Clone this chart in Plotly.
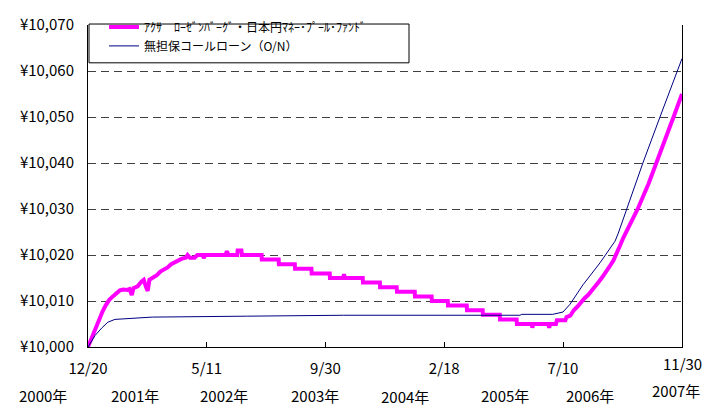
import plotly.graph_objects as go

# ---------------- data ----------------
fund_name = "ｱｸｻ　ﾛｰｾﾞﾝﾊﾞｰｸﾞ・日本円ﾏﾈｰ･ﾌﾟｰﾙ･ﾌｧﾝﾄﾞ"
call_name = "無担保コールローン（O/N）"

fund_dates = [
    "2000-12-20", "2001-01-05", "2001-01-20", "2001-02-05", "2001-02-20", "2001-03-05",
    "2001-03-20", "2001-04-05", "2001-04-20", "2001-05-05", "2001-05-20", "2001-06-05",
    "2001-06-15", "2001-06-25", "2001-07-02", "2001-07-20", "2001-08-05", "2001-08-15",
    "2001-08-25", "2001-09-01", "2001-09-08", "2001-09-25", "2001-10-10", "2001-10-25",
    "2001-11-10", "2001-11-25", "2001-12-10", "2001-12-25", "2002-01-10", "2002-01-25",
    "2002-02-10", "2002-02-18", "2002-02-28", "2002-03-20", "2002-04-01", "2002-04-24",
    "2002-04-28", "2002-05-03", "2002-07-30", "2002-08-05", "2002-08-12", "2002-09-18",
    "2002-09-20", "2002-10-06", "2002-10-08", "2002-12-31", "2003-01-01", "2003-03-14",
    "2003-03-15", "2003-05-22", "2003-05-23", "2003-08-01", "2003-08-02", "2003-10-18",
    "2003-10-19", "2003-12-14", "2003-12-18", "2003-12-22", "2004-03-07", "2004-03-08",
    "2004-05-19", "2004-05-20", "2004-07-30", "2004-07-31", "2004-10-15", "2004-10-16",
    "2004-12-26", "2004-12-27", "2005-03-05", "2005-03-06", "2005-05-25", "2005-05-26",
    "2005-08-01", "2005-08-02", "2005-10-13", "2005-10-14", "2005-12-24", "2005-12-25",
    "2006-02-26", "2006-03-01", "2006-03-05", "2006-05-08", "2006-05-12", "2006-05-16",
    "2006-06-10", "2006-06-14", "2006-07-20", "2006-07-25", "2006-08-10", "2006-08-25",
    "2006-09-10", "2006-09-25", "2006-10-10", "2006-10-25", "2006-11-10", "2006-11-25",
    "2006-12-10", "2006-12-25", "2007-01-10", "2007-01-25", "2007-02-10", "2007-02-25",
    "2007-03-10", "2007-03-25", "2007-04-10", "2007-04-25", "2007-05-10", "2007-05-25",
    "2007-06-10", "2007-06-25", "2007-07-10", "2007-07-25", "2007-08-10", "2007-08-25",
    "2007-09-10", "2007-09-25", "2007-10-10", "2007-10-25", "2007-11-10", "2007-11-22",
    "2007-11-30",
]
fund_values = [
    10000.0, 10002.0, 10004.2, 10006.2, 10007.7, 10009.0,
    10010.2, 10011.0, 10011.6, 10012.3, 10012.5, 10012.4,
    10012.6, 10011.3, 10012.8, 10013.2, 10014.2, 10014.6,
    10013.0, 10012.2, 10014.6, 10015.2, 10015.6, 10016.4,
    10016.8, 10017.3, 10018.0, 10018.4, 10019.0, 10019.2,
    10019.4, 10020.0, 10019.4, 10019.4, 10020.0, 10020.0,
    10019.3, 10020.0, 10020.0, 10020.8, 10020.0, 10020.0,
    10021.0, 10021.0, 10020.0, 10020.0, 10019.0, 10019.0,
    10018.0, 10018.0, 10017.0, 10017.0, 10016.0, 10016.0,
    10015.0, 10015.0, 10015.8, 10015.0, 10015.0, 10014.0,
    10014.0, 10013.0, 10013.0, 10012.0, 10012.0, 10011.0,
    10011.0, 10010.0, 10010.0, 10009.0, 10009.0, 10008.0,
    10008.0, 10007.0, 10007.0, 10006.0, 10006.0, 10005.0,
    10005.0, 10004.2, 10005.0, 10005.0, 10004.2, 10005.0,
    10005.0, 10005.8, 10005.8, 10006.5, 10006.8, 10008.0,
    10008.8, 10009.8, 10010.6, 10011.3, 10012.2, 10013.2,
    10014.2, 10015.2, 10016.3, 10017.5, 10018.8, 10020.3,
    10022.0, 10023.8, 10025.3, 10027.0, 10028.5, 10030.0,
    10031.8, 10033.5, 10035.5, 10037.5, 10039.8, 10042.0,
    10044.3, 10046.3, 10048.0, 10050.0, 10052.2, 10054.0,
    10055.0,
]

call_dates = [
    "2000-12-20", "2001-01-19", "2001-02-18", "2001-03-15", "2001-04-14", "2001-06-26",
    "2001-09-20", "2002-10-28", "2003-12-08", "2003-12-16", "2006-01-07", "2006-01-15",
    "2006-05-27", "2006-07-10", "2006-08-09", "2006-10-03", "2006-12-15", "2007-02-17",
    "2007-03-02", "2007-06-16", "2007-08-28", "2007-11-30",
]
call_values = [
    10000.0, 10002.5, 10004.2, 10005.4, 10006.0, 10006.2,
    10006.5, 10006.7, 10006.8, 10006.9, 10006.9, 10007.1,
    10007.1, 10007.6, 10009.3, 10013.5, 10018.3, 10023.0,
    10024.6, 10040.0, 10050.0, 10062.7,
]

x_tick_dates = ["2000-12-20", "2002-05-11", "2003-09-30", "2005-02-18", "2006-07-10", "2007-11-30"]
x_tick_text = ["12/20", "5/11", "9/30", "2/18", "7/10", ""]
last_tick_text = "11/30"
y_tick_vals = [10000, 10010, 10020, 10030, 10040, 10050, 10060, 10070]
y_tick_text = ["¥10,000", "¥10,010", "¥10,020", "¥10,030", "¥10,040", "¥10,050", "¥10,060", "¥10,070"]
year_labels = ["2000年", "2001年", "2002年", "2003年", "2004年", "2005年", "2006年", "2007年"]

# ---------------- layout helpers ----------------
W, H = 704, 406
L, R, T, B = 88, 22, 15, 59
PW, PH = W - L - R, H - T - B
FONT = "Noto Sans CJK JP"


def px_x(p):
    return (p - L) / PW


def px_y(p):
    return (H - B - p) / PH


fig = go.Figure()
fig.add_trace(go.Scatter(
    x=fund_dates, y=fund_values, name=fund_name, mode="lines",
    line=dict(color="#FF00FF", width=4),
))
fig.add_trace(go.Scatter(
    x=call_dates, y=call_values, name=call_name, mode="lines",
    line=dict(color="#000080", width=1),
))

year_x_px = [43, 135, 224, 315, 405, 505, 590, 676]
year_y_px = [397, 397, 397, 397, 398, 397, 397, 392]
annotations = []
for lab, xp, yp in zip(year_labels, year_x_px, year_y_px):
    annotations.append(dict(
        text=lab, x=px_x(xp), y=px_y(yp), xref="paper", yref="paper",
        xanchor="center", yanchor="middle", showarrow=False,
        font=dict(family=FONT, size=15, color="black"),
    ))
annotations.append(dict(
    text=last_tick_text, x=x_tick_dates[-1], y=px_y(364), xref="x", yref="paper",
    xanchor="center", yanchor="middle", showarrow=False,
    font=dict(family=FONT, size=15, color="black"),
))

fig.update_layout(
    width=W, height=H,
    margin=dict(l=L, r=R, t=T, b=B, pad=0),
    paper_bgcolor="white", plot_bgcolor="white",
    font=dict(family=FONT, size=15, color="black"),
    showlegend=True,
    legend=dict(
        x=px_x(104), y=px_y(2), xanchor="left", yanchor="top",
        bgcolor="rgba(0,0,0,0)", borderwidth=0,
        font=dict(family=FONT, size=12, color="black"),
        tracegroupgap=0,
    ),
    shapes=[dict(
        type="rect", xref="paper", yref="paper",
        x0=px_x(89), x1=px_x(409), y0=px_y(54), y1=px_y(14),
        line=dict(color="black", width=1), fillcolor="white", layer="above",
    )],
    annotations=annotations,
    xaxis=dict(
        type="date", range=[x_tick_dates[0], x_tick_dates[-1]],
        tickmode="array", tickvals=x_tick_dates, ticktext=x_tick_text,
        ticks="inside", ticklen=5, tickcolor="black", tickwidth=1,
        showline=True, linecolor="black", linewidth=1, mirror=False,
        showgrid=False, zeroline=False, ticklabelstandoff=8,
        tickfont=dict(family=FONT, size=15, color="black"),
    ),
    yaxis=dict(
        range=[10000, 10070],
        tickmode="array", tickvals=y_tick_vals, ticktext=y_tick_text,
        ticks="", showline=True, linecolor="black", linewidth=1, mirror=True,
        showgrid=True, gridcolor="#404040", gridwidth=1, griddash="8px,5px",
        zeroline=False, ticklabelstandoff=10,
        tickfont=dict(family=FONT, size=15, color="black"),
    ),
)

fig.write_html(
    "out.html",
    config={"displayModeBar": False},
    post_script="document.body.style.margin='0';document.body.style.overflow='hidden';",
)
